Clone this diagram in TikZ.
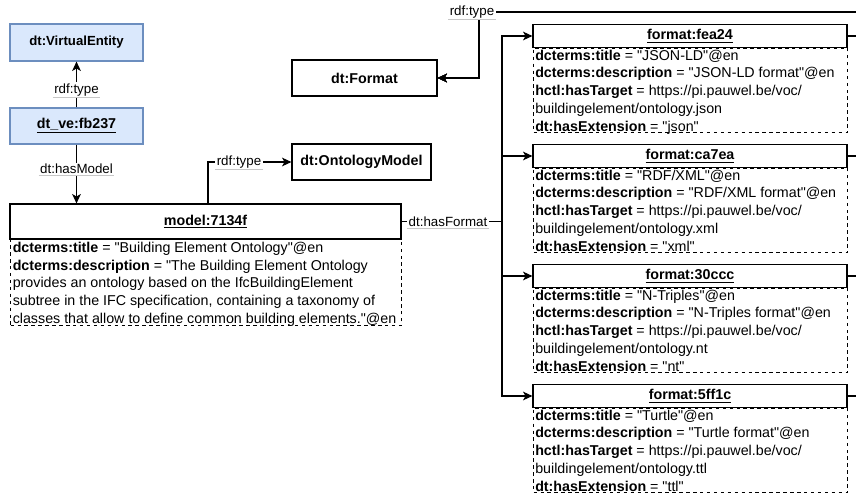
\documentclass[tikz,border=0pt]{standalone}
\usepackage{fontspec}
\setmainfont{Liberation Sans}
\newfontfamily\qfont{Liberation Sans}
\usetikzlibrary{arrows.meta,calc}
\definecolor{bfill}{HTML}{DAE8FC}
\definecolor{bdraw}{HTML}{6C8EBF}
\newcommand\bodyfont{\fontsize{10.7}{13.3}\selectfont}
\newcommand\qmk{{\qfont\symbol{34}}}
\newcommand\fmtblock[5]{%
  \node[bodybox, px={314}{84.5}, anchor=north west] (#1b) at (533,#3+11.5) {};
  \node[headbox, px={314}{23}] (#1) at (690,#3) {\underline{format:#2}};
  \node[txt] (#1t) at (535,#3+13.6) {\textbf{dcterms:title} = \qmk#4\qmk@en\\
    \textbf{dcterms:description} = \qmk#4 format\qmk@en\\
    \textbf{hctl:hasTarget} = https://pi.pauwel.be/voc/\\
    buildingelement/ontology.#5\\
    \textbf{dt:hasExtension} = \qmk#5\qmk};
}
\begin{document}
\begin{tikzpicture}[x=0.75pt,y=-0.75pt,
  every node/.style={font=\bodyfont, inner sep=0pt},
  px/.style 2 args={minimum width=#1*0.75pt, minimum height=#2*0.75pt},
  clsbox/.style={draw, line width=0.9pt, font=\fontsize{10.7}{13}\selectfont\bfseries},
  bluebox/.style={clsbox, fill=bfill, draw=bdraw},
  headbox/.style={draw, fill=white, line width=0.9pt, font=\fontsize{10.7}{13}\selectfont\bfseries},
  bodybox/.style={draw, dash pattern=on 2.6pt off 2.6pt, line width=0.9pt},
  txt/.style={anchor=north west, align=left},
  conn/.style={line width=0.9pt, -{Stealth[length=7pt,width=6.5pt,inset=1.8pt]}},
  lbl/.style={fill=white, font=\fontsize{10}{12}\selectfont, inner sep=1pt}
]
\useasboundingbox (0,0) rectangle (856,495);
\clip (0,0) rectangle (856,495);

% class nodes
\node[bluebox, px={133}{37}, font=\fontsize{9.9}{12}\selectfont\bfseries] (vec) at (76.5,42.5) {dt:VirtualEntity};
\node[bluebox, px={133}{36}] (ve) at (76.5,126) {\underline{dt\_ve:fb237}};
\node[clsbox, px={139}{36}] (onto) at (361.5,162) {dt:OntologyModel};
\node[clsbox, px={145}{36}] (fmt) at (364.5,78) {dt:Format};

% model
\node[bodybox, px={391}{86}, anchor=north west] (mbody) at (10,239) {};
\node[headbox, px={391}{35}] (mhead) at (205.5,221.5) {\underline{model:7134f}};
\node[txt] (mtext) at (12.5,241.8) {\textbf{dcterms:title} = \qmk Building Element Ontology\qmk@en\\
  \textbf{dcterms:description} = \qmk The Building Element Ontology\\
  provides an ontology based on the IfcBuildingElement\\
  subtree in the IFC specification, containing a taxonomy of\\
  classes that allow to define common building elements.\qmk@en};

% formats
\fmtblock{f1}{fea24}{36}{JSON-LD}{json}
\fmtblock{f2}{ca7ea}{156}{RDF/XML}{xml}
\fmtblock{f3}{30ccc}{276}{N-Triples}{nt}
\fmtblock{f4}{5ff1c}{396}{Turtle}{ttl}

% connectors
\draw[conn] (ve.north) -- (vec.south);
\draw[conn] (ve.south) -- (ve.south |- mhead.north);
\draw[conn] ([xshift=1.9pt]mhead.north) |- (onto.west);

\coordinate (hf) at (502,221.5);
\foreach \f in {f1,f2,f3,f4} \draw[conn] (mhead.east) -- (hf) |- (\f.west);

\coordinate (rx) at (875,12);
\coordinate (jt) at (479,12);
\foreach \f in {f1,f2,f3,f4} \draw[conn] (\f.east) -- (\f.east -| rx) -- (rx) -- (jt) |- (fmt.east);

% labels
\node[lbl] (l1) at (76.5,90) {rdf:type};
\node[lbl] (l2) at (76.5,169) {dt:hasModel};
\node[lbl] (l3) at (239,162) {rdf:type};
\node[lbl] (l4) at (448,221.5) {dt:hasFormat};
\node[lbl] (l5) at (472,12) {rdf:type};
\foreach \l in {l1,l2,l3,l4,l5} \draw[black!22, line width=0.5pt] (\l.south west) -- (\l.south east);
\end{tikzpicture}
\end{document}
